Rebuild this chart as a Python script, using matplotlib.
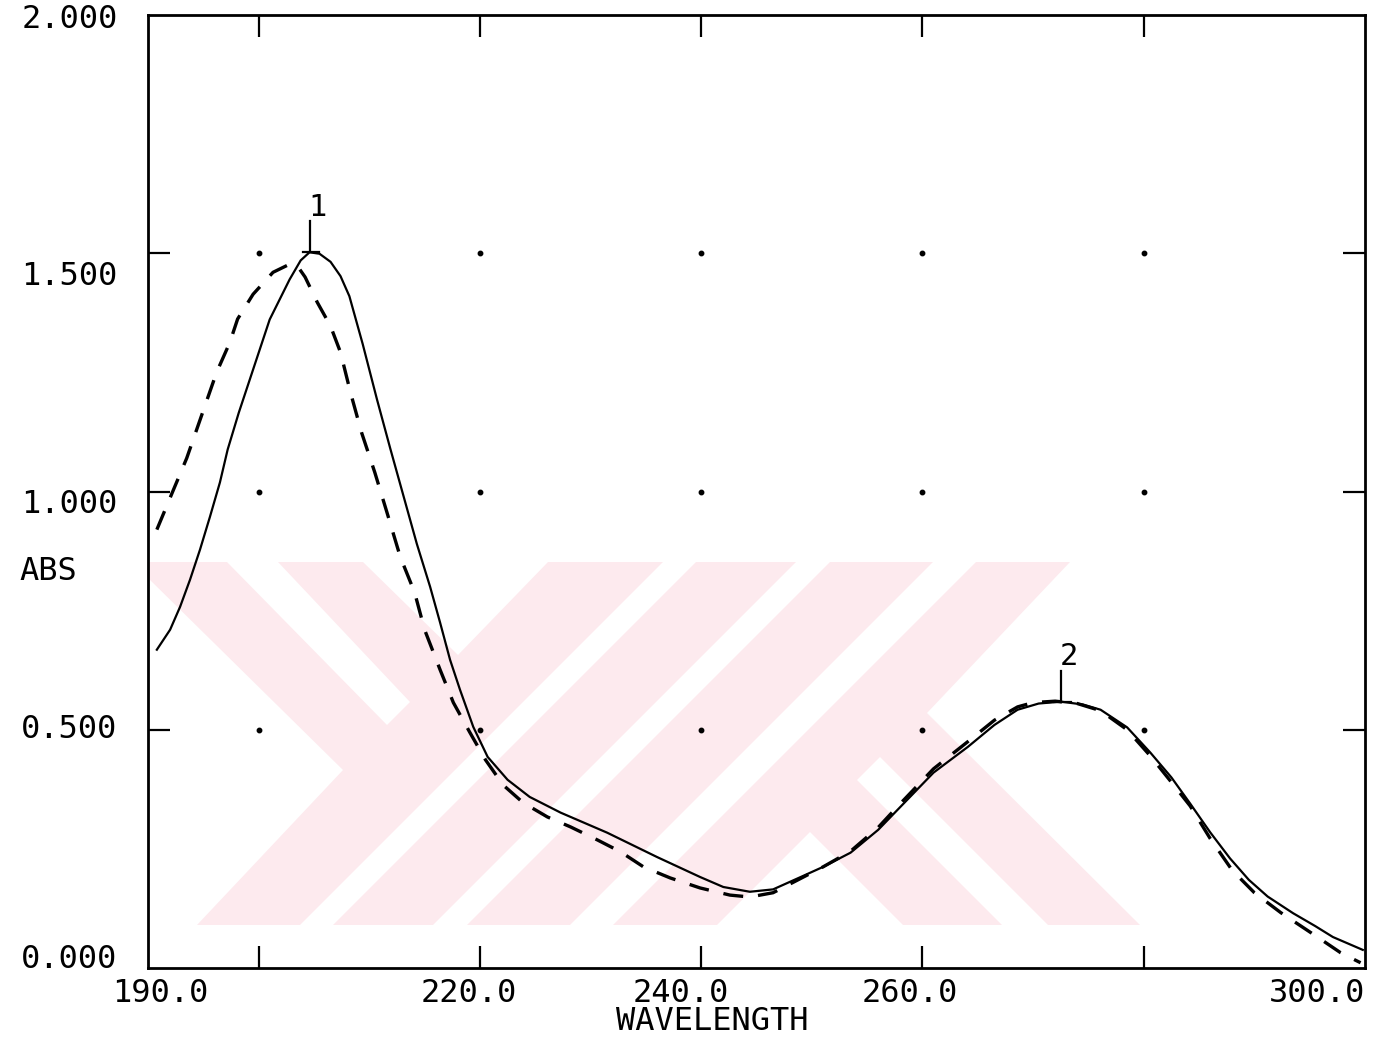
import numpy as np
import matplotlib
matplotlib.use("Agg")
import matplotlib.pyplot as plt
from matplotlib.patches import Polygon

# sample 1 (solid trace)
wl_solid = [190.8, 192.0, 192.9, 193.8, 194.7, 195.6, 196.5, 197.2, 198.2, 199.2,
            201.0, 202.8, 203.8, 204.6, 205.5, 206.5, 207.4, 208.2, 209.4, 210.7,
            211.9, 213.1, 214.3, 215.5, 216.4, 217.3, 218.2, 219.4, 220.7, 222.5,
            224.5, 227.3, 231.5, 236.0, 239.9, 242.0, 244.4, 246.5, 249.0, 251.0,
            253.5, 256.0, 258.0, 261.0, 264.1, 266.5, 268.6, 270.5, 272.5, 274.5,
            276.1, 278.5, 280.6, 282.5, 284.2, 286.0, 287.8, 289.5, 291.2, 293.5,
            295.5, 297.1, 299.8]
abs_solid = [0.668, 0.710, 0.758, 0.815, 0.878, 0.947, 1.019, 1.088, 1.165, 1.235,
             1.361, 1.445, 1.485, 1.502, 1.499, 1.482, 1.452, 1.410, 1.310, 1.193,
             1.090, 0.990, 0.890, 0.800, 0.725, 0.647, 0.584, 0.506, 0.443, 0.395,
             0.359, 0.326, 0.284, 0.233, 0.191, 0.170, 0.160, 0.165, 0.191, 0.212,
             0.242, 0.290, 0.338, 0.410, 0.464, 0.510, 0.542, 0.555, 0.559, 0.553,
             0.542, 0.505, 0.452, 0.400, 0.345, 0.285, 0.230, 0.185, 0.150, 0.115,
             0.088, 0.065, 0.038]

# sample 2 (dashed trace)
wl_dash = [190.8, 192.2, 193.5, 195.0, 196.2, 197.4, 198.1, 199.5, 201.3, 202.8,
           203.6, 204.2, 205.3, 206.5, 207.4, 208.3, 209.3, 210.5, 211.6, 212.8,
           214.1, 215.0, 216.4, 217.6, 219.1, 220.5, 222.1, 223.9, 226.1, 228.2,
           230.6, 232.7, 234.8, 237.2, 239.9, 242.6, 244.4, 246.5, 249.0, 251.0,
           253.5, 256.0, 258.0, 261.0, 264.1, 266.5, 268.6, 270.0, 272.0, 274.0,
           276.1, 278.5, 280.6, 282.5, 284.2, 286.0, 288.0, 290.0, 292.4, 295.7,
           297.8, 299.6]
abs_dash = [0.920, 0.998, 1.070, 1.170, 1.250, 1.313, 1.362, 1.414, 1.460, 1.477,
            1.470, 1.450, 1.397, 1.347, 1.292, 1.208, 1.124, 1.040, 0.956, 0.863,
            0.788, 0.710, 0.626, 0.557, 0.494, 0.437, 0.384, 0.347, 0.317, 0.296,
            0.269, 0.244, 0.212, 0.189, 0.168, 0.153, 0.149, 0.158, 0.188, 0.212,
            0.245, 0.295, 0.345, 0.418, 0.475, 0.520, 0.548, 0.557, 0.560, 0.555,
            0.540, 0.500, 0.445, 0.390, 0.340, 0.272, 0.205, 0.158, 0.116, 0.065,
            0.032, 0.011]

x_ticks = [200, 220, 240, 260, 280]
y_ticks = [0.5, 1.0, 1.5]
x_labels = [190.0, 220.0, 240.0, 260.0, 300.0]
y_labels = [2.0, 1.5, 1.0, 0.5, 0.0]

W, H = 1388, 1045
FONT = "DejaVu Sans Mono"
PINK = "#fdeaee"


def px(pts):
    """Pixel positions (top-left origin) -> figure fraction."""
    return [(x / W, 1 - y / H) for x, y in pts]


def draw_watermark(ax, fig):
    base = [(147, 562), (1070, 562), (927, 713), (1140, 925), (147, 925)]
    holes = [
        [(147, 577), (343, 770), (197, 925), (147, 925)],
        [(227, 562), (278, 562), (410, 702), (387, 725)],
        [(363, 562), (548, 562), (458, 655)],
        [(300, 925), (333, 925), (696, 562), (663, 562)],
        [(433, 925), (467, 925), (830, 562), (796, 562)],
        [(570, 925), (613, 925), (976, 562), (933, 562)],
        [(717, 925), (810, 832), (903, 925)],
        [(857, 780), (880, 757), (1048, 925), (1002, 925)],
    ]
    ax.add_patch(Polygon(px(base), closed=True, transform=fig.transFigure,
                         facecolor=PINK, edgecolor="none", zorder=0.1, clip_on=False))
    for h in holes:
        ax.add_patch(Polygon(px(h), closed=True, transform=fig.transFigure,
                             facecolor="white", edgecolor="none", zorder=0.2,
                             clip_on=False))


def mark_peak(ax, xs, ys, label, lo, hi):
    xs = np.asarray(xs)
    ys = np.asarray(ys)
    sel = (xs >= lo) & (xs <= hi)
    i = np.argmax(np.where(sel, ys, -1))
    xp, yp = xs[i], ys[i]
    ax.plot([xp, xp], [yp, yp + 0.065], color="black", lw=1.6, zorder=4)
    ax.plot([xp - 0.6, xp + 0.9], [yp, yp], color="black", lw=1.6, zorder=4)
    ax.annotate(label, (xp, yp + 0.095), xytext=(6, 0), textcoords="offset points",
                ha="center", va="center", fontsize=22, family=FONT)


fig = plt.figure(figsize=(W / 100, H / 100), dpi=100)
ax = fig.add_axes([148 / W, 1 - 968 / H, (1365 - 148) / W, (968 - 15) / H])

draw_watermark(ax, fig)

ax.plot(wl_solid, abs_solid, color="black", lw=1.6, zorder=3)
ax.plot(wl_dash, abs_dash, color="black", lw=2.4, linestyle=(0, (6, 4.5)), zorder=3)

gx, gy = np.meshgrid(x_ticks, y_ticks)
ax.plot(gx.ravel(), gy.ravel(), linestyle="none", marker="o", ms=3.2,
        color="black", zorder=2)

mark_peak(ax, wl_solid, abs_solid, "1", 190, 230)
mark_peak(ax, wl_solid, abs_solid, "2", 250, 300)

ax.set_xlim(190, 300)
ax.set_ylim(0, 2)
ax.set_xticks(x_ticks)
ax.set_yticks(y_ticks)
ax.tick_params(direction="in", length=16, width=1.6, top=True, right=True,
               labelleft=False, labelbottom=False)
for s in ax.spines.values():
    s.set_linewidth(2.0)

# axis numbers, placed the way the plotter put them
x_off = {190.0: 9, 220.0: -8, 240.0: -15, 260.0: -9, 300.0: 0}
for v in x_labels:
    ha = "right" if v == x_labels[-1] else "center"
    ax.annotate(f"{v:.1f}", (v, 0), xycoords=("data", "axes fraction"),
                xytext=(x_off[v], -18), textcoords="offset points",
                ha=ha, va="center", fontsize=23, family=FONT, annotation_clip=False)

y_off = {2.0: -3, 1.5: -16.5, 1.0: -9.5, 0.5: 0, 0.0: 6}
for v in y_labels:
    ax.annotate(f"{v:.3f}", (0, v), xycoords=("axes fraction", "data"),
                xytext=(-22, y_off[v]), textcoords="offset points",
                ha="right", va="center", fontsize=23, family=FONT,
                annotation_clip=False)

fig.text(48 / W, 1 - 572 / H, "ABS", ha="center", va="center", fontsize=23, family=FONT)
fig.text(712 / W, 1 - 1021 / H, "WAVELENGTH", ha="center", va="center",
         fontsize=23, family=FONT)

fig.savefig("out.png", dpi=100)
